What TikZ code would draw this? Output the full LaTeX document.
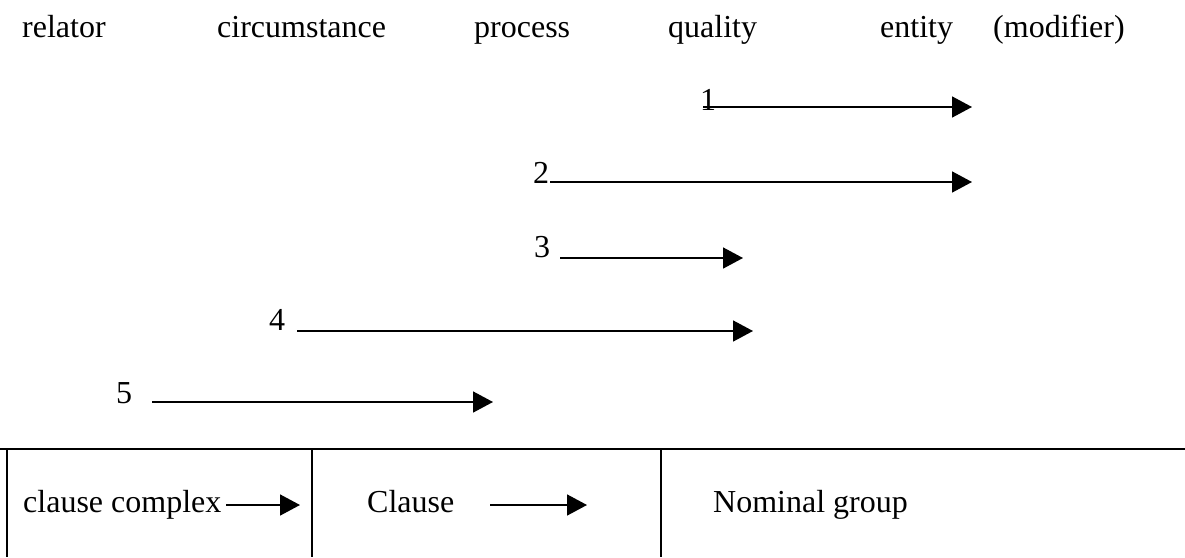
\documentclass[tikz,border=0pt]{standalone}
\usepackage{fontspec}
\setmainfont{Liberation Serif}
\usetikzlibrary{arrows.meta}
\usetikzlibrary{positioning}

\begin{document}
\begin{tikzpicture}[x=1pt, y=-1pt, font=\fontsize{32}{38}\selectfont]
	\useasboundingbox (0,0) rectangle (1185,557);
	% word classes along the top
	\begin{scope}[every node/.style={inner sep=0pt, anchor=base west}]
		\node (relator) at (22,37) {relator};
		\node (circ) at (217,37) {circumstance};
		\node (process) at (474,37) {process};
		\node (quality) at (668,37) {quality};
		\node (entity) at (880,37) {entity};
		\node (modifier) at (993,37) {(modifier)};
	\end{scope}

	% numbered ranges
	\begin{scope}[every node/.style={inner sep=0pt, anchor=base west}]
		\node (n1) at (700,110) {1};
		\node (n2) at (533,183) {2};
		\node (n3) at (534,257) {3};
		\node (n4) at (269,330) {4};
		\node (n5) at (116,403) {5};
	\end{scope}
	\coordinate (s1) at (703,107);
	\coordinate (e1) at (972,107);
	\coordinate (s2) at (550,182);
	\coordinate (e2) at (972,182);
	\coordinate (s3) at (560,258);
	\coordinate (e3) at (743,258);
	\coordinate (s4) at (297,331);
	\coordinate (e4) at (753,331);
	\coordinate (s5) at (152,402);
	\coordinate (e5) at (493,402);

	% table of ranks
	\draw[line width=2.3pt] (0,449) -- (1185,449);
	\draw[line width=1.5pt] (7,449) -- (7,557);
	\draw[line width=1.5pt] (312,449) -- (312,557);
	\draw[line width=1.5pt] (661,449) -- (661,557);
	\begin{scope}[every node/.style={inner sep=0pt, anchor=base west}]
		\node (complex) at (23,512) {clause complex};
		\node (clause) at (367,512) {Clause};
		\node (nominal) at (713,512) {Nominal group};
	\end{scope}
	\coordinate (t1) at (226,505);
	\coordinate (u1) at (300,505);
	\coordinate (t2) at (490,505);
	\coordinate (u2) at (587,505);

	\begin{scope}[>={Triangle[length=20pt, width=21pt]},
	              every edge/.style={draw=black, line width=1.6pt, ->}]
		\path (s1) edge (e1);
		\path (s2) edge (e2);
		\path (s3) edge (e3);
		\path (s4) edge (e4);
		\path (s5) edge (e5);
		\path (t1) edge (u1);
		\path (t2) edge (u2);
	\end{scope}
\end{tikzpicture}
\end{document}
